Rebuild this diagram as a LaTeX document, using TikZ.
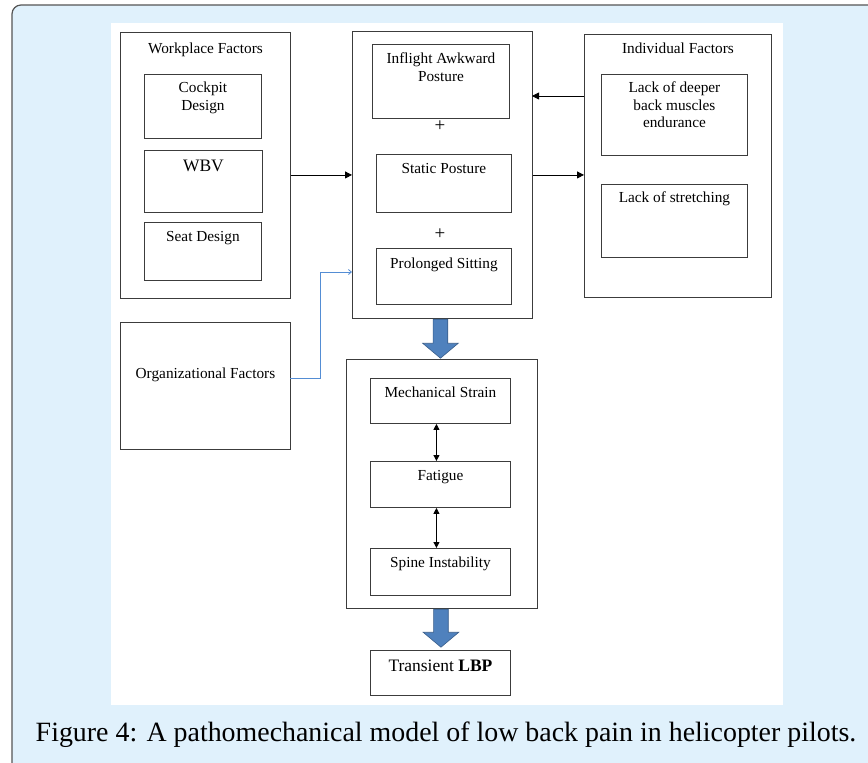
\documentclass[tikz,border=0pt]{standalone}
\usepackage{fontspec}
\setmainfont{Liberation Serif}
\newfontfamily\capfont{Liberation Serif}
\usetikzlibrary{positioning,arrows.meta,shapes.arrows}
\definecolor{panel}{RGB}{224,241,252}
\definecolor{framegray}{RGB}{85,85,85}
\definecolor{boxgray}{RGB}{60,60,60}
\definecolor{linkblue}{RGB}{84,141,212}
\definecolor{arrowblue}{RGB}{79,129,189}
\definecolor{arrowedge}{RGB}{56,93,138}
\tikzstyle{box}=[draw=boxgray,line width=0.9pt,rectangle,inner sep=0pt,anchor=north west]
\tikzstyle{txt}=[inner sep=0pt,align=center,font=\fontsize{15.3}{17.5}\selectfont]
\tikzstyle{bigtxt}=[inner sep=0pt,align=center,font=\fontsize{17.5}{20}\selectfont]
\tikzstyle{plus}=[inner sep=0pt,font=\fontsize{19}{20}\selectfont]
\tikzstyle{arr}=[line width=0.8pt,-{Triangle[length=7pt,width=7pt]}]
\tikzstyle{both}=[line width=0.8pt,{Triangle[length=6pt,width=6pt]}-{Triangle[length=6pt,width=6pt]}]
\tikzstyle{orglink}=[draw=linkblue,line width=0.8pt,-{Straight Barb[length=3pt,width=5pt]}]
\tikzstyle{blockarrow}=[single arrow,shape border rotate=270,fill=arrowblue,draw=arrowedge,line width=0.6pt,inner sep=7pt,single arrow head extend=10.5pt,single arrow tip angle=100,anchor=tail]

\begin{document}
\begin{tikzpicture}[x=1pt,y=-1pt]
\useasboundingbox (0,0) rectangle (868,763);
% panel and white sheet
\draw[framegray,line width=1.2pt,fill=panel,rounded corners=9pt] (12,5) rectangle (895,790);
\fill[white] (111,23) rectangle (783,705);

% left column
\node[box,minimum width=170pt,minimum height=266pt] (work) at (120,32) {};
\node[txt,below=11pt of work.north] (work-t) {Workplace Factors};
\node[box,minimum width=117pt,minimum height=64pt] (cockpit) at (144,74) {};
\node[txt,below=8pt of cockpit.north] (cockpit-t) {Cockpit\\Design};
\node[box,minimum width=118pt,minimum height=62pt] (wbv) at (144,150) {};
\node[bigtxt,below=10pt of wbv.north] (wbv-t) {WBV};
\node[box,minimum width=117pt,minimum height=58pt] (seat) at (144,222) {};
\node[txt,below=9pt of seat.north] (seat-t) {Seat Design};
\node[box,minimum width=170pt,minimum height=127pt] (org) at (120,322) {};
\node[txt,below=46pt of org.north] (org-t) {Organizational Factors};

% middle column
\node[box,minimum width=180pt,minimum height=287pt] (central) at (352,31) {};
\node[box,minimum width=137pt,minimum height=74pt] (inflight) at (372,44) {};
\node[txt,below=9pt of inflight.north] (inflight-t) {Inflight Awkward\\Posture};
\node[plus] (plusA) at (440,126) {+};
\node[box,minimum width=135pt,minimum height=58pt] (static) at (376,154) {};
\node[txt,below=9pt of static.north] (static-t) {Static Posture};
\node[plus] (plusB) at (440,234) {+};
\node[box,minimum width=135pt,minimum height=56pt] (prolonged) at (376,248) {};
\node[txt,below=10pt of prolonged.north] (prolonged-t) {Prolonged Sitting};

\node[box,minimum width=191pt,minimum height=249pt] (chain) at (346,359) {};
\node[box,minimum width=140pt,minimum height=45pt] (mech) at (370,378) {};
\node[txt,below=9pt of mech.north] (mech-t) {Mechanical Strain};
\node[box,minimum width=140pt,minimum height=46pt] (fatigue) at (370,461) {};
\node[txt,below=9pt of fatigue.north] (fatigue-t) {Fatigue};
\node[box,minimum width=140pt,minimum height=47pt] (spine) at (370,548) {};
\node[txt,below=9pt of spine.north] (spine-t) {Spine Instability};
\node[box,minimum width=140pt,minimum height=45pt] (lbp) at (370,650) {};
\node[bigtxt,below=10pt of lbp.north] (lbp-t) {Transient \textbf{LBP}};

% right column
\node[box,minimum width=187pt,minimum height=263pt] (indiv) at (584,34) {};
\node[txt,below=9pt of indiv.north] (indiv-t) {Individual Factors};
\node[box,minimum width=146pt,minimum height=81pt] (lackdeep) at (601,74) {};
\node[txt,below=8pt of lackdeep.north] (lackdeep-t) {Lack of deeper\\back muscles\\endurance};
\node[box,minimum width=146pt,minimum height=73pt] (lackstretch) at (601,184) {};
\node[txt,below=8pt of lackstretch.north] (lackstretch-t) {Lack of stretching};

% connectors
\coordinate (backin) at (532,96);
\coordinate (orgout) at (290,378);
\coordinate (orgin) at (352,272);
\draw[arr] (work.east |- central.west) -- (central.west);
\draw[arr] (indiv.west |- backin) -- (backin);
\draw[arr] (central.east) -- (indiv.west |- central.east);
\draw[orglink] (orgout) -- ++(30,0) |- (orgin);
\draw[both] ([xshift=-4pt]mech.south) -- ([xshift=-4pt]fatigue.north);
\draw[both] ([xshift=-4pt]fatigue.south) -- ([xshift=-4pt]spine.north);
\node[blockarrow,minimum height=39pt] (drop1) at ([xshift=-2pt]central.south) {};
\node[blockarrow,minimum height=38pt] (drop2) at ([xshift=-1pt]chain.south) {};

\node[font=\capfont\fontsize{27.9}{30}\selectfont,inner sep=0pt,anchor=base] (caption) at (446,741) {Figure 4: A pathomechanical model of low back pain in helicopter pilots.};
\end{tikzpicture}
\end{document}
